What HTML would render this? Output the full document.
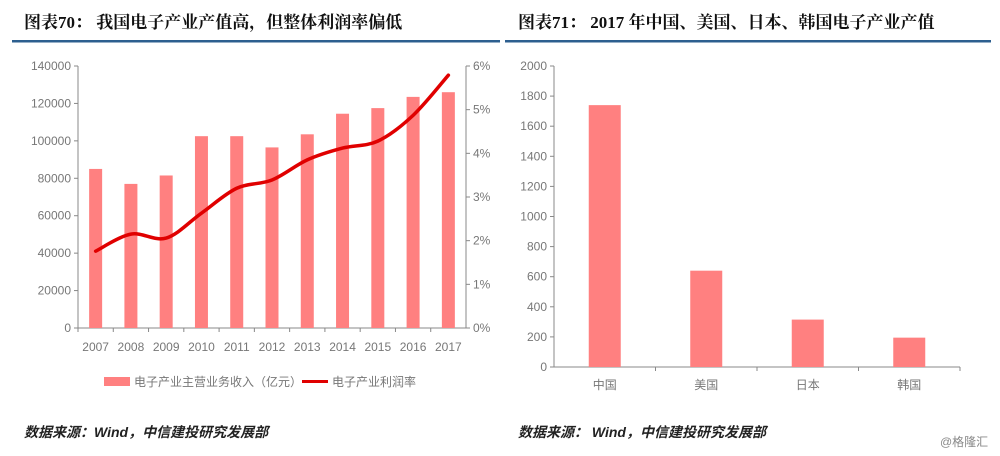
<!DOCTYPE html>
<html><head><meta charset="utf-8"><style>
body{margin:0;background:#fff;width:1000px;height:456px;overflow:hidden;font-family:"Liberation Sans","Noto Sans CJK SC",sans-serif}
svg{display:block}
</style></head><body>
<svg id="s" width="1000" height="456" xmlns="http://www.w3.org/2000/svg">
<text x="24" y="28" font-size="17" font-weight="bold" fill="#111" font-family="'Liberation Serif','Noto Serif CJK SC',serif">图表70：  我国电子产业产值高，但整体利润率偏低</text>
<text x="518" y="28" font-size="17" font-weight="bold" fill="#111" font-family="'Liberation Serif','Noto Serif CJK SC',serif">图表71：  2017 年中国、美国、日本、韩国电子产业产值</text>
<rect x="12" y="40" width="488" height="2.5" fill="#2d5f8f"/>
<rect x="505" y="40" width="486" height="2.5" fill="#2d5f8f"/>
<g id="L"></g><g id="R"></g>
<rect x="104" y="377" width="26" height="9" fill="#ff8080"/>
<text x="134" y="386" font-size="12" fill="#777">电子产业主营业务收入（亿元）</text>
<rect x="302" y="380" width="26" height="3" fill="#e00000"/>
<text x="332" y="386" font-size="12" fill="#777">电子产业利润率</text>
<text x="24" y="437" font-size="14" font-weight="bold" font-style="italic" fill="#222">数据来源：Wind，中信建投研究发展部</text>
<text x="518" y="437" font-size="14" font-weight="bold" font-style="italic" fill="#222">数据来源：  Wind，中信建投研究发展部</text>
<text x="940" y="446" font-size="12" fill="#888">@格隆汇</text>
</svg>
<script>
const years=["2007","2008","2009","2010","2011","2012","2013","2014","2015","2016","2017"];
const revenue=[85000,77000,81500,102500,102500,96500,103500,114500,117500,123500,126000];
const margin=[1.76,2.15,2.06,2.63,3.2,3.39,3.85,4.12,4.28,4.87,5.79];
const leftTicks=[0,20000,40000,60000,80000,100000,120000,140000];
const rightTicks=[0,1,2,3,4,5,6];
const countries=["中国","美国","日本","韩国"];
const output=[1740,640,315,195];
const outTicks=[0,200,400,600,800,1000,1200,1400,1600,1800,2000];
const NS="http://www.w3.org/2000/svg";
function mk(p,t,a,txt){const e=document.createElementNS(NS,t);for(const k in a)e.setAttribute(k,a[k]);if(txt!==undefined)e.textContent=txt;p.appendChild(e);return e;}
const L=document.getElementById('L');
const x0=78,x1=466,y0=328,y1=66;
const yL=v=>y0-(v/140000)*(y0-y1);
const yR=v=>y0-(v/6)*(y0-y1);
const cw=(x1-x0)/years.length;
const xC=i=>x0+cw*(i+0.5);
let e;
e=mk(L,'line',{x1:x0,y1:y1,x2:x0,y2:y0,stroke:'#888'});

e=mk(L,'line',{x1:x1,y1:y1,x2:x1,y2:y0,stroke:'#888'});

e=mk(L,'line',{x1:x0,y1:y0,x2:x1,y2:y0,stroke:'#888'});

leftTicks.forEach(v=>{mk(L,'line',{x1:x0-4,y1:yL(v),x2:x0,y2:yL(v),stroke:'#888'});
e=mk(L,'text',{x:x0-7,y:yL(v)+4,'font-size':12,fill:'#777','text-anchor':'end'},String(v));
});
rightTicks.forEach(v=>{mk(L,'line',{x1:x1,y1:yR(v),x2:x1+4,y2:yR(v),stroke:'#888'});
e=mk(L,'text',{x:x1+7,y:yR(v)+4,'font-size':12,fill:'#777'},v+'%');
});
years.forEach((y,i)=>{mk(L,'line',{x1:x0+cw*i,y1:y0,x2:x0+cw*i,y2:y0+4,stroke:'#888'});
e=mk(L,'text',{x:xC(i),y:y0+23,'font-size':12,fill:'#777','text-anchor':'middle'},y);

e=mk(L,'rect',{x:xC(i)-6.5,y:yL(revenue[i]),width:13,height:y0-yL(revenue[i]),fill:'#ff8080'});
});
const pts=margin.map((m,i)=>[xC(i),yR(m)]);
let d='M'+pts[0][0]+','+pts[0][1];
for(let i=0;i<pts.length-1;i++){const p0=pts[Math.max(0,i-1)],p1=pts[i],p2=pts[i+1],p3=pts[Math.min(pts.length-1,i+2)];
const c1=[p1[0]+(p2[0]-p0[0])/6,p1[1]+(p2[1]-p0[1])/6],c2=[p2[0]-(p3[0]-p1[0])/6,p2[1]-(p3[1]-p1[1])/6];
d+=` C${c1[0]},${c1[1]} ${c2[0]},${c2[1]} ${p2[0]},${p2[1]}`;}
e=mk(L,'path',{d:d,fill:'none',stroke:'#e00000','stroke-width':3.5,'stroke-linecap':'round'});

const R=document.getElementById('R');
const a0=554,a1=960,b0=367,b1=66;
const yO=v=>b0-(v/2000)*(b0-b1);
const cw2=(a1-a0)/countries.length;
e=mk(R,'line',{x1:a0,y1:b1,x2:a0,y2:b0,stroke:'#888'});

e=mk(R,'line',{x1:a0,y1:b0,x2:a1,y2:b0,stroke:'#888'});

outTicks.forEach(v=>{mk(R,'line',{x1:a0-4,y1:yO(v),x2:a0,y2:yO(v),stroke:'#888'});
e=mk(R,'text',{x:a0-7,y:yO(v)+4,'font-size':12,fill:'#777','text-anchor':'end'},String(v));
});
countries.forEach((c,i)=>{const cx=a0+cw2*(i+0.5);
mk(R,'line',{x1:a0+cw2*(i+1),y1:b0,x2:a0+cw2*(i+1),y2:b0+4,stroke:'#888'});
e=mk(R,'text',{x:cx,y:b0+22,'font-size':12,fill:'#777','text-anchor':'middle'},c);

e=mk(R,'rect',{x:cx-16,y:yO(output[i]),width:32,height:b0-yO(output[i]),fill:'#ff8080'});
});
</script>
</body></html>
